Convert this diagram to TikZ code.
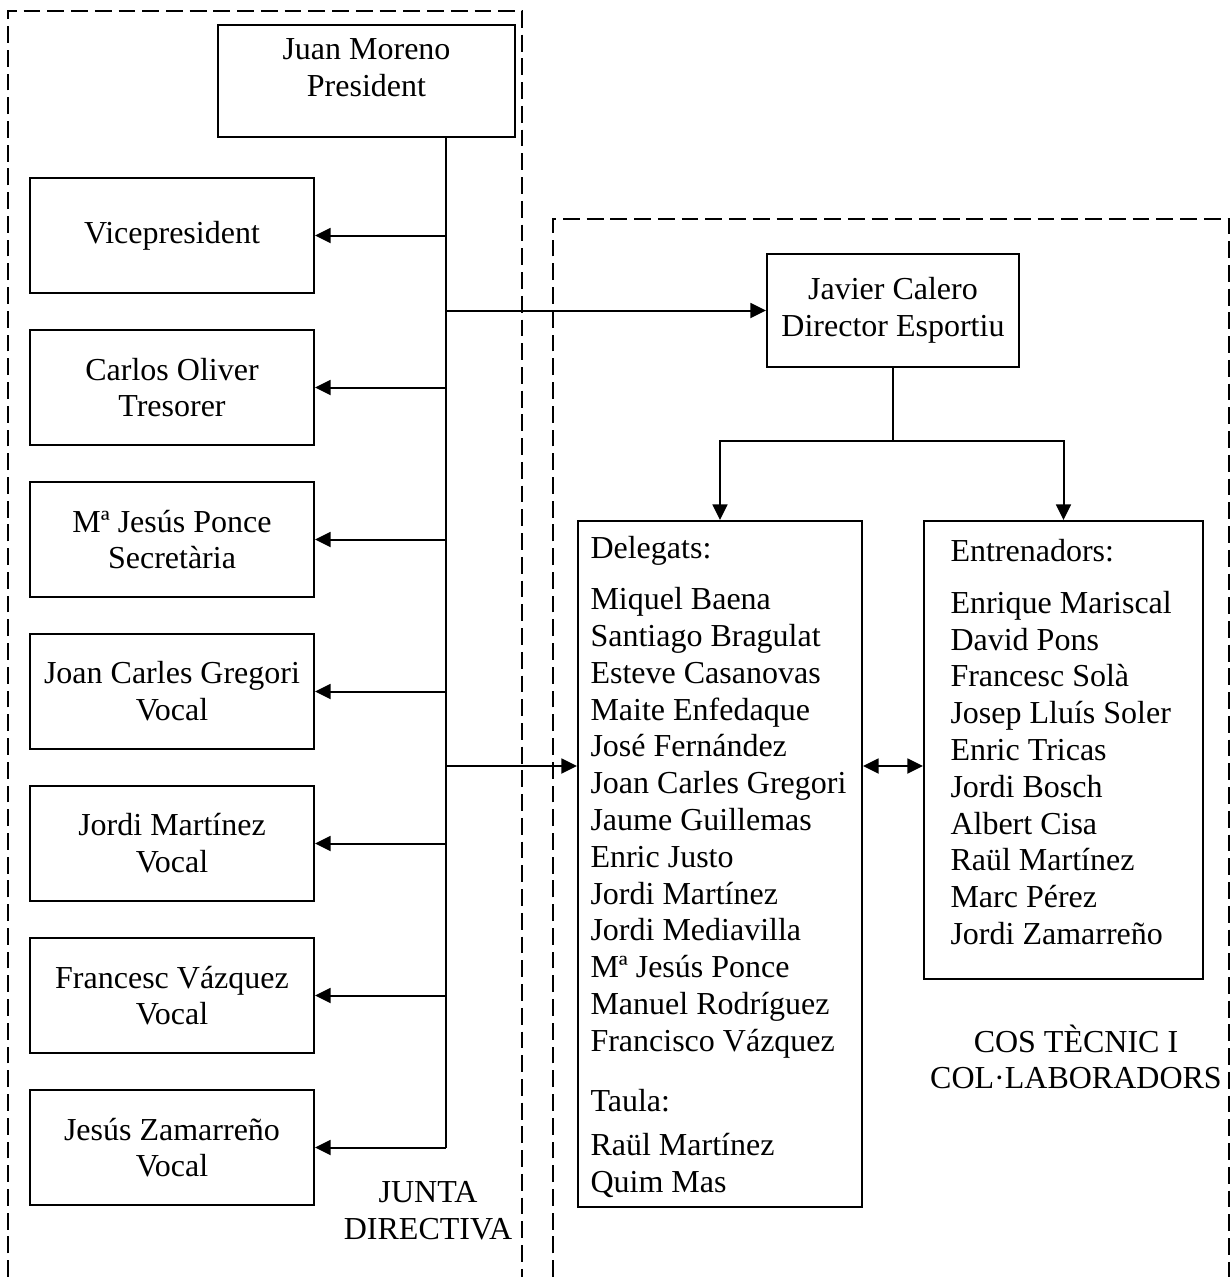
\documentclass[tikz,border=0pt]{standalone}
\usepackage{fontspec}
\setmainfont{Liberation Serif}
\usetikzlibrary{arrows.meta}
\def\pxu{0.375pt}
\tikzset{
 box/.style={draw, line width=0.8pt, inner sep=0pt},
 txt/.style={inner sep=0pt, align=center, font=\fontsize{12pt}{13.8pt}\selectfont},
 lbox/.style={box, txt, minimum width=284*\pxu, minimum height=115*\pxu},
 conn/.style={line width=0.75pt},
 arr/.style={conn, -{Triangle[length=5.8pt,width=5.6pt]}},
 darr/.style={conn, {Triangle[length=5.8pt,width=5.6pt]}-{Triangle[length=5.8pt,width=5.6pt]}},
 grp/.style={line width=0.75pt, dash pattern=on 6.3pt off 2.6pt},
}
\begin{document}
\begin{tikzpicture}[x=0.375pt,y=-0.375pt]
\useasboundingbox (0,0) rectangle (1231,1277);

% group frames
\draw[grp] (8,1277) -- (8,11) -- (522,11) -- (522,1277);
\draw[grp] (553,1277) -- (553,219) -- (1229,219) -- (1229,1277);

% president
\node[box, minimum width=297*\pxu, minimum height=112*\pxu] (pres) at (366.5,81) {};
\node[txt, anchor=north] (prestxt) at (366.5,38) {Juan Moreno\\President};

% left column
\node[lbox] (vp) at (172,235.5) {Vicepresident};
\node[lbox] (co) at (172,387.5) {Carlos Oliver\\Tresorer};
\node[lbox] (mj) at (172,539.5) {Mª Jesús Ponce\\Secretària};
\node[lbox] (jc) at (172,691.5) {Joan Carles Gregori\\Vocal};
\node[lbox] (jm) at (172,843.5) {Jordi Martínez\\Vocal};
\node[lbox] (fv) at (172,995.5) {Francesc Vázquez\\Vocal};
\node[lbox] (jz) at (172,1147.5) {Jesús Zamarreño\\Vocal};

% director
\node[box, txt, minimum width=252*\pxu, minimum height=113*\pxu] (jav) at (893,310.5) {Javier Calero\\Director Esportiu};

% lists
\node[box, minimum width=284*\pxu, minimum height=686*\pxu] (dlg) at (720,864) {};
\node[txt, align=left, anchor=north west] (dlgtxt) at (590,536) {Delegats:\\[5.3pt]
Miquel Baena\\ Santiago Bragulat\\ Esteve Casanovas\\ Maite Enfedaque\\ José Fernández\\
Joan Carles Gregori\\ Jaume Guillemas\\ Enric Justo\\ Jordi Martínez\\ Jordi Mediavilla\\
Mª Jesús Ponce\\ Manuel Rodríguez\\ Francisco Vázquez\\[8.6pt]
Taula:\\[3pt] Raül Martínez\\ Quim Mas};

\node[box, minimum width=279*\pxu, minimum height=458*\pxu] (ent) at (1063.5,750) {};
\node[txt, align=left, anchor=north west] (enttxt) at (950,539) {Entrenadors:\\[5.5pt]
Enrique Mariscal\\ David Pons\\ Francesc Solà\\ Josep Lluís Soler\\ Enric Tricas\\
Jordi Bosch\\ Albert Cisa\\ Raül Martínez\\ Marc Pérez\\ Jordi Zamarreño};

% group labels
\node[txt] (junta) at (428,1211) {JUNTA\\DIRECTIVA};
\node[txt] (cos) at (1076,1057) {COS TÈCNIC I\\COL·LABORADORS};

% connectors
\coordinate (tk) at (446,0);
\coordinate (mid) at (0,766);
\draw[conn] (tk |- pres.south) -- (tk |- jz.east);
\foreach \n in {vp,co,mj,jc,jm,fv,jz} \draw[arr] (tk |- \n.east) -- (\n.east);
\draw[arr] (tk |- jav.west) -- (jav.west);
\draw[arr] (tk |- mid) -- (dlg.west |- mid);
\draw[darr] (dlg.east |- mid) -- (ent.west |- mid);
\path (jav.south) ++(0,73) coordinate (split);
\draw[conn] (jav.south) -- (split);
\draw[arr] (split) -| (dlg.north);
\draw[arr] (split) -| (ent.north);
\end{tikzpicture}
\end{document}
